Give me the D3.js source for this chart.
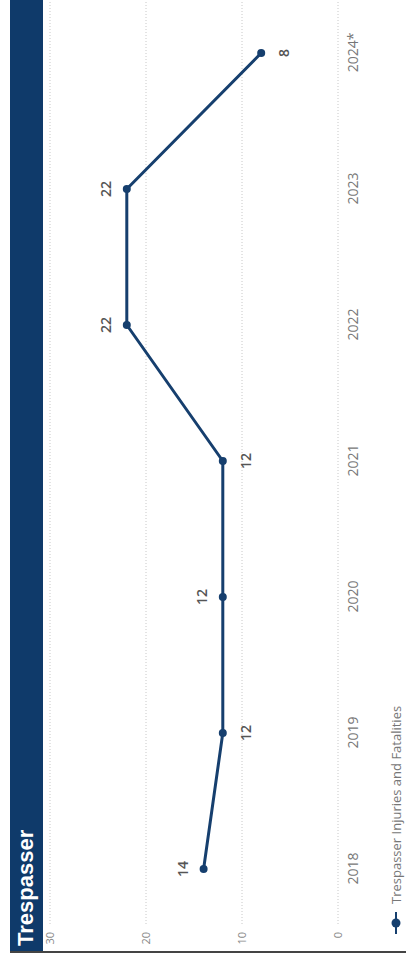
<!DOCTYPE html>
<html>
<head>
<meta charset="utf-8">
<script src="https://cdn.jsdelivr.net/npm/d3@7"></script>
<style>
  html, body { margin: 0; padding: 0; background: #fff; }
  svg { display: block; }
</style>
</head>
<body>
<div id="chart"></div>
<script>
// data
const years = ["2018", "2019", "2020", "2021", "2022", "2023", "2024*"];
const incidents = [14, 12, 12, 12, 22, 22, 8];
const valueTicks = [0, 10, 20, 30];
const seriesName = "Trespasser Injuries and Fatalities";
const title = "Trespasser";

// page is a portrait photo of a landscape chart, so draw landscape and rotate
const PAGE_W = 406;
const PAGE_H = 962;
const WIDTH = PAGE_H;  // unrotated chart width
const HEIGHT = PAGE_W; // unrotated chart height

const NAVY = "#163f6e";

const svg = d3
  .select("#chart")
  .append("svg")
  .attr("width", PAGE_W)
  .attr("height", PAGE_H);

const g = svg
  .append("g")
  .attr("transform", `translate(0, ${PAGE_H}) rotate(-90)`);

// scales
const x = d3.scalePoint().domain(years).range([93, 909]);
const y = d3.scaleLinear().domain([0, 30]).range([338, 50]);

// title bar
g.append("rect")
  .attr("x", 10)
  .attr("y", 10)
  .attr("width", WIDTH - 10)
  .attr("height", 33)
  .attr("fill", "#0f3a6a");

g.append("text")
  .attr("x", 16)
  .attr("y", 33)
  .attr("fill", "#fff")
  .attr("font-family", "'Liberation Sans Narrow', 'Liberation Sans', sans-serif")
  .attr("font-weight", "bold")
  .attr("font-size", "22px")
  .text(title);

// left border
g.append("line")
  .attr("x1", 10)
  .attr("x2", 10)
  .attr("y1", 10)
  .attr("y2", HEIGHT)
  .attr("stroke", "#444")
  .attr("stroke-width", 2);

// gridlines
g.selectAll(".grid")
  .data(valueTicks)
  .enter()
  .append("line")
  .attr("class", "grid")
  .attr("x1", 38)
  .attr("x2", WIDTH)
  .attr("y1", (d) => y(d))
  .attr("y2", (d) => y(d))
  .attr("stroke", "#c8c8c8")
  .attr("stroke-width", 1)
  .attr("stroke-dasharray", "1,2");

// value axis labels
const yAxis = g
  .append("g")
  .attr("transform", "translate(30, 0)")
  .call(d3.axisLeft(y).tickValues(valueTicks).tickSize(0).tickPadding(0));
yAxis.select(".domain").remove();
yAxis
  .selectAll("text")
  .attr("fill", "#888")
  .attr("font-family", "'Open Sans', sans-serif")
  .attr("font-size", "11px");

// year axis labels
const xAxis = g
  .append("g")
  .attr("transform", "translate(0, 348)")
  .call(d3.axisBottom(x).tickSize(0).tickPadding(0));
xAxis.select(".domain").remove();
xAxis
  .selectAll("text")
  .attr("fill", "#777")
  .attr("font-family", "'Open Sans', sans-serif")
  .attr("font-size", "14px");

// line
const points = years.map((yr, i) => ({ year: yr, value: incidents[i], i }));

g.append("path")
  .datum(points)
  .attr("fill", "none")
  .attr("stroke", NAVY)
  .attr("stroke-width", 3)
  .attr("stroke-linejoin", "round")
  .attr("d", d3.line().x((d) => x(d.year)).y((d) => y(d.value)));

g.selectAll(".dot")
  .data(points)
  .enter()
  .append("circle")
  .attr("class", "dot")
  .attr("cx", (d) => x(d.year))
  .attr("cy", (d) => y(d.value))
  .attr("r", 4)
  .attr("fill", NAVY);

// data labels: go below when a neighbour is higher, else above
function below(d) {
  const prev = incidents[d.i - 1];
  const next = incidents[d.i + 1];
  return (prev !== undefined && prev > d.value) || (next !== undefined && next > d.value);
}

g.selectAll(".label")
  .data(points)
  .enter()
  .append("text")
  .attr("class", "label")
  .attr("x", (d) => x(d.year))
  .attr("y", (d) => y(d.value) + (below(d) ? 23 : -21))
  .attr("dy", "0.35em")
  .attr("text-anchor", "middle")
  .attr("fill", "#555")
  .attr("font-family", "'Open Sans', sans-serif")
  .attr("font-weight", "600")
  .attr("font-size", "14px")
  .text((d) => d.value);

// legend
const legend = g.append("g").attr("transform", "translate(0, 396)");
legend
  .append("line")
  .attr("x1", 28)
  .attr("x2", 50)
  .attr("stroke", NAVY)
  .attr("stroke-width", 2);
legend.append("circle").attr("cx", 39).attr("r", 4.5).attr("fill", NAVY);
legend
  .append("text")
  .attr("x", 58)
  .attr("dy", "0.35em")
  .attr("fill", "#777")
  .attr("font-family", "'Open Sans', sans-serif")
  .attr("font-size", "13px")
  .text(seriesName);
</script>
</body>
</html>
